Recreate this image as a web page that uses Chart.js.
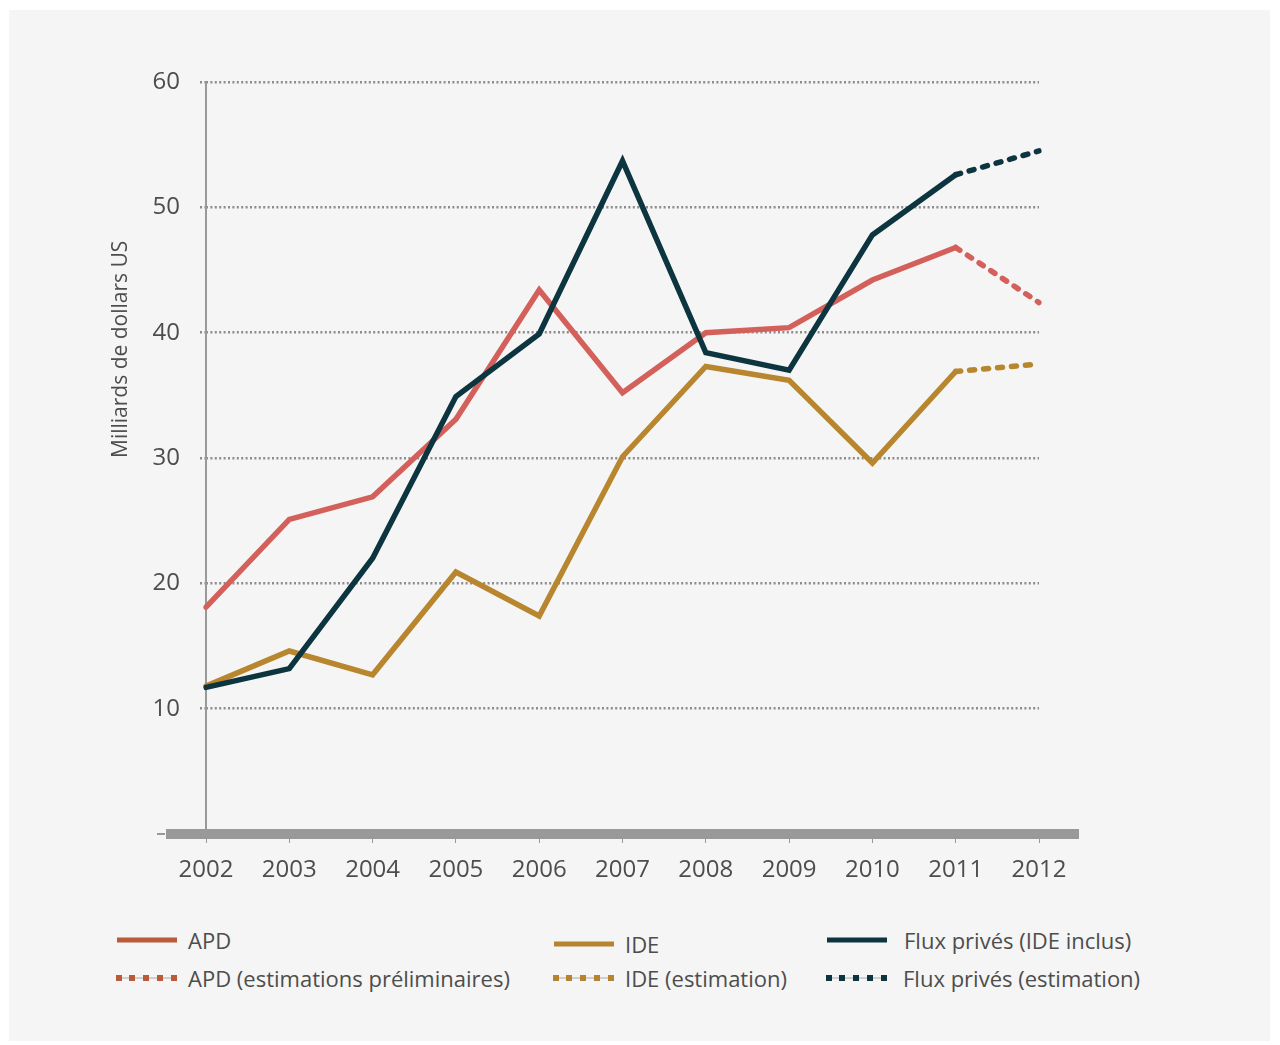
<!DOCTYPE html>
<html lang="fr">
<head>
<meta charset="UTF-8">
<title>APD, IDE et flux privés</title>
<script src="https://cdn.jsdelivr.net/npm/chart.js@4.4.1/dist/chart.umd.min.js"></script>
<style>
  body { margin: 0; background: #fff; font-family: "Open Sans", sans-serif; }
  .panel { position: absolute; left: 9px; top: 10px; width: 1261px; height: 1031px; background: #f4f5f4; }
  .chart-box { position: absolute; left: 0; top: 0; width: 1280px; height: 900px; }
  .legend-item { position: absolute; display: flex; align-items: center; font-size: 22px; color: #4d4d4d; white-space: nowrap; }
  .legend-item svg { margin-right: 10px; }
</style>
</head>
<body>
<div class="panel"></div>
<div class="chart-box"><canvas id="flowChart" width="1280" height="900"></canvas></div>

<div class="legend-item" style="left:116px; top:925px;"><svg width="62" height="8"><line x1="1" y1="4" x2="61" y2="4" stroke="#b95a3b" stroke-width="5"/></svg>APD</div>
<div class="legend-item" style="left:116px; top:963px;"><svg width="62" height="8"><line x1="1" y1="4" x2="61" y2="4" stroke="#aaa" stroke-width="1"/><g fill="#b95a3b"><rect x="0" y="1" width="6" height="6"/><rect x="13" y="1" width="6" height="6"/><rect x="27" y="1" width="6" height="6"/><rect x="41" y="1" width="6" height="6"/><rect x="55" y="1" width="6" height="6"/></g></svg>APD (estimations préliminaires)</div>

<div class="legend-item" style="left:553px; top:929px;"><svg width="62" height="8"><line x1="1" y1="4" x2="61" y2="4" stroke="#b5842f" stroke-width="5"/></svg>IDE</div>
<div class="legend-item" style="left:553px; top:963px;"><svg width="62" height="8"><line x1="1" y1="4" x2="61" y2="4" stroke="#aaa" stroke-width="1"/><g fill="#b5842f"><rect x="0" y="1" width="6" height="6"/><rect x="13" y="1" width="6" height="6"/><rect x="27" y="1" width="6" height="6"/><rect x="41" y="1" width="6" height="6"/><rect x="55" y="1" width="6" height="6"/></g></svg>IDE (estimation)</div>

<div class="legend-item" style="left:826px; top:925px;"><svg width="62" height="8" style="margin-right:16px"><line x1="1" y1="4" x2="61" y2="4" stroke="#0d3540" stroke-width="5"/></svg>Flux privés (IDE inclus)</div>
<div class="legend-item" style="left:826px; top:963px;"><svg width="62" height="8" style="margin-right:15px"><line x1="1" y1="4" x2="61" y2="4" stroke="#aaa" stroke-width="1"/><g fill="#0d3540"><rect x="0" y="1" width="6" height="6"/><rect x="13" y="1" width="6" height="6"/><rect x="27" y="1" width="6" height="6"/><rect x="41" y="1" width="6" height="6"/><rect x="55" y="1" width="6" height="6"/></g></svg>Flux privés (estimation)</div>

<script>
const years = ['2002', '2003', '2004', '2005', '2006', '2007', '2008', '2009', '2010', '2011', '2012'];
const apd = [18.1, 25.1, 26.9, 33.1, 43.4, 35.2, 40.0, 40.4, 44.2, 46.8, 42.4];
const ide = [11.8, 14.6, 12.7, 20.9, 17.4, 30.1, 37.3, 36.2, 29.6, 36.9, 37.5];
const fluxPrives = [11.7, 13.2, 22.0, 34.9, 39.9, 53.7, 38.4, 37.0, 47.8, 52.6, 54.5];
const yTicks = [0, 10, 20, 30, 40, 50, 60];
const firstEstimate = 9; // 2011 -> 2012 est une estimation

const estDash = ctx => ctx.p0DataIndex >= firstEstimate ? [5, 9] : undefined;

const makeLine = (label, data, color) => ({
  label,
  data,
  borderColor: color,
  borderWidth: 5.5,
  borderCapStyle: 'round',
  pointRadius: 0,
  tension: 0,
  fill: false,
  segment: { borderDash: estDash }
});

// axe vertical, barre grise épaisse de l'axe horizontal + titre de l'axe vertical
const axisDecor = {
  id: 'axisDecor',
  beforeDatasetsDraw(chart) {
    const { ctx, chartArea } = chart;
    ctx.save();
    ctx.fillStyle = '#999';
    ctx.fillRect(chartArea.left - 1, chartArea.top, 2, chartArea.bottom - chartArea.top);
    ctx.restore();
  },
  afterDatasetsDraw(chart) {
    const { ctx } = chart;
    const y0 = chart.scales.y.getPixelForValue(0);
    ctx.save();
    ctx.fillStyle = '#999';
    ctx.fillRect(166, y0 - 5, 1079 - 166, 10);
    ctx.fillRect(157, y0 - 1, 8, 2);
    ctx.restore();

    ctx.save();
    ctx.translate(121, chart.scales.y.getPixelForValue(30));
    ctx.rotate(-Math.PI / 2);
    ctx.font = '21px "Open Sans"';
    ctx.fillStyle = '#4d4d4d';
    ctx.textAlign = 'left';
    ctx.textBaseline = 'middle';
    ctx.fillText('Milliards de dollars US', 0, 0);
    ctx.restore();
  }
};

new Chart(document.getElementById('flowChart'), {
  type: 'line',
  data: {
    labels: years,
    datasets: [
      makeLine('Flux privés (IDE inclus)', fluxPrives, '#0d3540'),
      makeLine('APD', apd, '#d4605b'),
      makeLine('IDE', ide, '#b8862e')
    ]
  },
  options: {
    responsive: false,
    animation: false,
    layout: { padding: { left: 0, right: 241, top: 82, bottom: 0 } },
    plugins: { legend: { display: false }, tooltip: { enabled: false } },
    scales: {
      x: {
        offset: false,
        afterFit: s => { s.height = 900 - 834; },
        grid: { drawOnChartArea: false, drawTicks: true, tickLength: 9, color: '#999', lineWidth: 1 },
        border: { display: false },
        ticks: { color: '#4d4d4d', font: { family: 'Open Sans', size: 24 }, padding: 13, maxRotation: 0 }
      },
      y: {
        min: 0,
        max: 60,
        afterFit: s => { s.width = 206; },
        afterBuildTicks: s => { s.ticks = yTicks.map(v => ({ value: v })); },
        grid: { color: '#8c8c8c', lineWidth: 2.5, tickLength: 6, tickBorderDash: [2, 2.4] },
        border: { display: false, dash: [2, 2.4] },
        ticks: {
          color: '#4d4d4d', font: { family: 'Open Sans', size: 24 }, padding: 20,
          callback: v => v === 0 ? '' : v
        }
      }
    }
  },
  plugins: [axisDecor]
});
</script>
</body>
</html>
